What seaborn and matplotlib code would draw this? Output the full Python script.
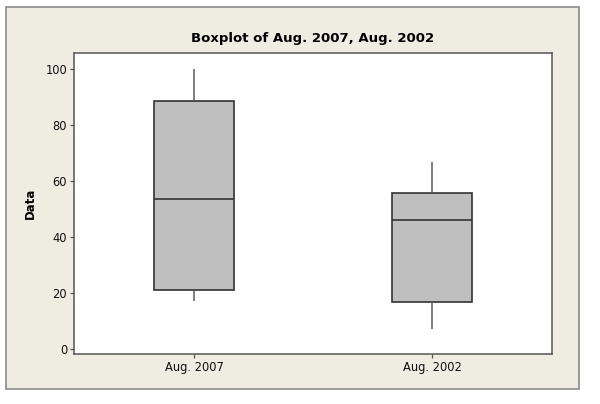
import numpy as np
import pandas as pd
import matplotlib
matplotlib.use("Agg")
import matplotlib.pyplot as plt
from matplotlib.patches import Rectangle
import seaborn as sns

# Five-number summaries (min, Q1, median, Q3, max)
categories = ["Aug. 2007", "Aug. 2002"]
aug_2007 = [17.3, 21.1, 53.6, 88.6, 100.0]
aug_2002 = [7.0, 16.9, 46.2, 55.8, 66.7]
y_ticks = [0, 20, 40, 60, 80, 100]

df = pd.DataFrame({
    "group": [categories[0]] * len(aug_2007) + [categories[1]] * len(aug_2002),
    "Data": aug_2007 + aug_2002,
})

sns.set_style("white")
plt.rcParams["font.family"] = ["DejaVu Sans"]

fig = plt.figure(figsize=(6.0, 4.04), dpi=100)
fig.patch.set_facecolor("white")

# beige outer panel like Minitab
fig.patches.append(Rectangle((0.010, 0.037), 0.955, 0.946, transform=fig.transFigure,
                             facecolor="#EFECE2", edgecolor="#8a8a8a", linewidth=1.2,
                             zorder=-10))

ax = fig.add_axes([0.1233, 0.1238, 0.7967, 0.745])
ax.set_zorder(5)
ax.set_facecolor("white")

sns.boxplot(data=df, x="group", y="Data", ax=ax, width=0.336, whis=np.inf,
            color="#BFBFBF", saturation=1, linecolor="#333333", linewidth=1.2,
            medianprops={"color": "#333333", "linewidth": 1.2},
            whiskerprops={"color": "#5a5a5a", "linewidth": 1.1},
            capprops={"visible": False})

ax.set_xlim(-0.504, 1.504)
ax.set_ylim(-1.8, 105.7)
ax.set_yticks(y_ticks)
ax.set_xlabel("")
ax.set_ylabel("Data", fontsize=8.5, fontweight="bold", labelpad=6, color="black")
ax.set_title("Boxplot of Aug. 2007, Aug. 2002", fontsize=9.5, fontweight="bold",
             pad=8, color="black")

for s in ["left", "bottom", "top", "right"]:
    ax.spines[s].set_visible(True)
    ax.spines[s].set_color("#555555")
    ax.spines[s].set_linewidth(1.1)

ax.tick_params(axis="both", which="both", direction="out", length=3, width=0.9,
               color="#555555", labelsize=8.3, labelcolor="#111111", pad=2,
               left=True, bottom=True)

fig.savefig("out.png", dpi=100, facecolor=fig.get_facecolor())
